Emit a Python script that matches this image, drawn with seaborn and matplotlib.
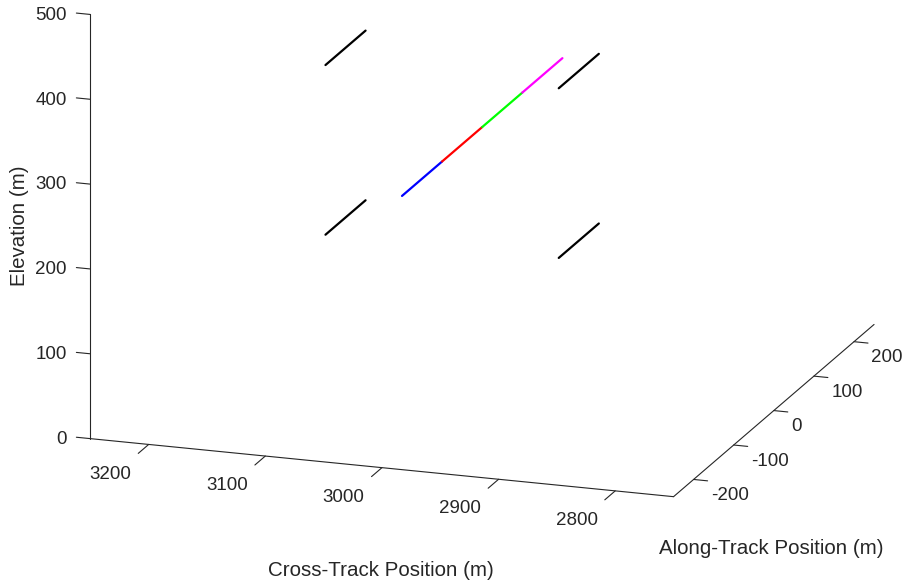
import numpy as np
import matplotlib
matplotlib.use("Agg")
import matplotlib.pyplot as plt
import seaborn as sns

sns.set_theme(style="white")
plt.rcParams['font.family'] = ['Liberation Sans', 'DejaVu Sans']
plt.rcParams['axes.unicode_minus'] = False

# --- data ---
ref_cross = [3100, 2900]          # cross-track positions of reference markers (m)
ref_elev = [200, 400]             # elevations of reference markers (m)
ref_along = [-100, 0]             # along-track extent of markers (m)
traj_cross = 3000                 # trajectory cross-track position (m)
traj_elev = 300                   # trajectory elevation (m)
traj_edges = [-200, -100, 0, 100, 200]   # along-track segment boundaries (m)
traj_colors = ['#0000ff', '#ff0000', '#00ff00', '#ff00ff']

x_ticks = [2800, 2900, 3000, 3100, 3200]
y_ticks = [-200, -100, 0, 100, 200]
z_ticks = [0, 100, 200, 300, 400, 500]

txt = '#262626'
fig = plt.figure(figsize=(9.06, 5.86), dpi=100)
ax = fig.add_axes([0.0235, 0.1973, 1.0, 1.0], projection='3d')
ax.set_proj_type('ortho')
ax.view_init(elev=17.0, azim=-71.2)

for xc in ref_cross:
    for zc in ref_elev:
        ax.plot([xc, xc], ref_along, [zc, zc], color='black', lw=1.6)
for i, c in enumerate(traj_colors):
    ax.plot([traj_cross, traj_cross], traj_edges[i:i + 2], [traj_elev, traj_elev],
            color=c, lw=1.6)

ax.set_xlim(3250, 2750)
ax.set_ylim(-250, 250)
ax.set_zlim(0, 500)
ax.set_xticks(x_ticks)
ax.set_yticks(y_ticks)
ax.set_zticks(z_ticks)
ax.set_box_aspect((1, 1.01, 0.72), zoom=1.626)

tick_len = {'x': 0.65, 'y': 0.3, 'z': 0.3}
for name, a in (('x', ax.xaxis), ('y', ax.yaxis), ('z', ax.zaxis)):
    a.pane.set_visible(False)
    a.line.set_color(txt)
    a.line.set_linewidth(0.8)
    a._axinfo['grid']['linewidth'] = 0
    a._axinfo['tick']['color'] = txt
    a._axinfo['tick']['linewidth'] = {True: 0.8, False: 0.6}
    a._axinfo['tick']['inward_factor'] = tick_len[name]
    a._axinfo['tick']['outward_factor'] = 0.0
ax.zaxis.set_ticks_position('lower')
ax.zaxis._get_tickdir = lambda position: 0   # z ticks point along cross-track
ax.zaxis._axinfo['tick']['inward_factor'] = 0.0
ax.zaxis._axinfo['tick']['outward_factor'] = tick_len['z']
# tick-label offset directions
ax.xaxis._axmask = lambda: [0.0, 1.0, -0.04]
ax.zaxis._axmask = lambda: [1.0, 0.15, 0.0]
ax.grid(False)
ax.tick_params(labelsize=13.5, colors=txt)
ax.xaxis.set_tick_params(pad=34)
ax.yaxis.set_tick_params(pad=-1.5)
ax.zaxis.set_tick_params(pad=0.5)
for t in ax.get_xticklabels():
    t.set_ha('center')
    t.set_va('center')
for t in ax.get_zticklabels():
    t.set_ha('right')
    t.set_va('center_baseline')
for t in ax.get_yticklabels():
    t.set_ha('left')
    t.set_va('center_baseline')

ax.text2D(20 / 906, 1 - 226 / 586, 'Elevation (m)', transform=fig.transFigure, rotation=90,
          ha='center', va='center', fontsize=14.8, color=txt)
ax.text2D(381 / 906, 1 - 570 / 586, 'Cross-Track Position (m)', transform=fig.transFigure,
          ha='center', va='center', fontsize=14.8, color=txt)
ax.text2D(771 / 906, 1 - 548 / 586, 'Along-Track Position (m)', transform=fig.transFigure,
          ha='center', va='center', fontsize=14.8, color=txt)

fig.savefig('out.png', dpi=100, facecolor='white')
